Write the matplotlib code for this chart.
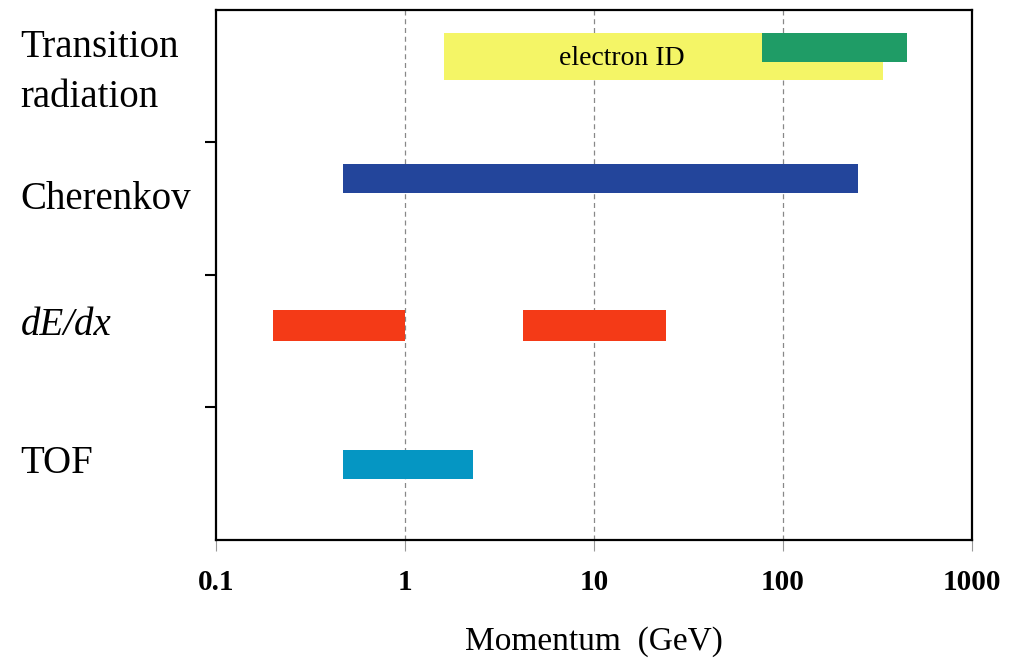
import matplotlib.pyplot as plt
from matplotlib.transforms import blended_transform_factory

# momentum ranges (GeV) for each identification method
methods = ['TOF', 'dE/dx', 'Cherenkov', 'Transition radiation']
tof_range = [(0.47, 2.3)]
dedx_range = [(0.2, 1.0), (4.2, 24)]
cherenkov_range = [(0.47, 250)]
tr_electron_range = [(1.6, 340)]
tr_hadron_range = [(77, 450)]
x_ticks = [0.1, 1, 10, 100, 1000]
x_ticklabels = ['0.1', '1', '10', '100', '1000']

fig = plt.figure(figsize=(10.17, 6.65), dpi=100)
ax = fig.add_axes([0.2124, 0.188, 0.7434, 0.797])
ax.set_xscale('log')
ax.set_xlim(0.1, 1000)
ax.set_ylim(0, 4)

def draw(ranges, yc, h, color):
    for lo, hi in ranges:
        ax.barh(yc, hi - lo, left=lo, height=h, color=color, zorder=3)

# (row center, bar height, colour)
draw(tof_range, 0.57, 0.22, '#0596C3')
draw(dedx_range, 1.62, 0.23, '#F43A17')
draw(cherenkov_range, 2.73, 0.22, '#23459B')
draw(tr_electron_range, 3.65, 0.355, '#F4F566')
draw(tr_hadron_range, 3.717, 0.22, '#1F9C66')

ax.text(14, 3.635, 'electron ID', ha='center', va='center',
        fontsize=20, family='Liberation Serif', zorder=4)

for xv in [1, 10, 100]:
    ax.axvline(xv, color='#888888', ls=(0, (4, 3)), lw=0.9, zorder=1)

ax.set_xticks(x_ticks)
ax.set_xticklabels(x_ticklabels, fontsize=21, fontweight='bold',
                   family='Liberation Serif')
ax.minorticks_off()
ax.tick_params(axis='x', direction='out', length=8, color='#999999', pad=13)
ax.set_yticks([1, 2, 3])
ax.set_yticklabels([])
ax.tick_params(axis='y', direction='out', length=8, width=1.5, color='black')
for s in ax.spines.values():
    s.set_linewidth(1.6)

ax.set_xlabel('Momentum  (GeV)', fontsize=24, family='Liberation Serif', labelpad=22)

# method labels left of the axes
tr = blended_transform_factory(fig.transFigure, ax.transData)
ax.text(0.02, 3.53, 'Transition\nradiation', transform=tr, ha='left', va='center',
        fontsize=28, family='Liberation Serif', linespacing=1.45)
ax.text(0.02, 2.57, 'Cherenkov', transform=tr, ha='left', va='center',
        fontsize=28, family='Liberation Serif')
ax.text(0.02, 1.62, 'dE/dx', transform=tr, ha='left', va='center',
        fontsize=28, family='Liberation Serif', style='italic')
ax.text(0.02, 0.58, 'TOF', transform=tr, ha='left', va='center',
        fontsize=28, family='Liberation Serif')

fig.savefig('out.png', dpi=100)
